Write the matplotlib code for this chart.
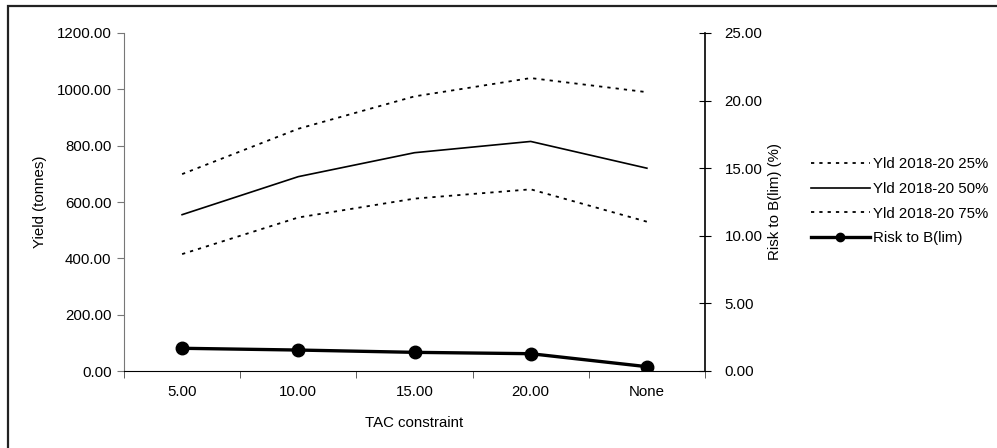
import matplotlib
matplotlib.use("Agg")
import matplotlib.pyplot as plt
from matplotlib.patches import Rectangle
import numpy as np

plt.rcParams["font.family"] = ["Liberation Sans", "DejaVu Sans"]
plt.rcParams["font.size"] = 10.8

# TAC constraint scenarios and projected yields / risk
categories = ["5.00", "10.00", "15.00", "20.00", "None"]
yld_25 = [415, 545, 612, 645, 530]
yld_50 = [555, 690, 775, 815, 720]
yld_75 = [699, 860, 975, 1040, 990]
risk_blim = [1.68, 1.55, 1.38, 1.28, 0.32]

x = np.arange(len(categories))

fig = plt.figure(figsize=(9.97, 4.48), dpi=100)
ax = fig.add_axes([124 / 997, 1 - 371 / 448, (705 - 124) / 997, (371 - 33) / 448])
ax2 = ax.twinx()

dot = (0, (1.8, 2.8))
l1, = ax.plot(x, yld_25, color="black", lw=1.3, ls=dot, label="Yld 2018-20 25%")
l2, = ax.plot(x, yld_50, color="black", lw=1.2, label="Yld 2018-20 50%")
l3, = ax.plot(x, yld_75, color="black", lw=1.3, ls=dot, label="Yld 2018-20 75%")
l4, = ax2.plot(x, risk_blim, color="black", lw=2.4, marker="o", ms=9,
               label="Risk to B(lim)")

ax.set_xlim(-0.5, len(categories) - 0.5)
ax.set_ylim(0, 1200)
ax.set_yticks(np.arange(0, 1201, 200))
ax.set_yticklabels([f"{v:.2f}" for v in np.arange(0, 1201, 200)])
ax2.set_ylim(0, 25)
ax2.set_yticks(np.arange(0, 26, 5))
ax2.set_yticklabels([f"{v:.2f}" for v in np.arange(0, 26, 5)])

ax.set_xticks(x)
ax.set_xticklabels(categories)
ax.set_xticks(np.arange(-0.5, len(categories)), minor=True)
ax.tick_params(axis="x", which="major", length=0, pad=10)
ax.tick_params(axis="x", which="minor", length=5, direction="out", color="#444444")
ax.tick_params(axis="y", length=5, color="#777777", pad=4)
ax2.tick_params(axis="y", length=8, direction="inout", pad=10)

for a in (ax, ax2):
    a.spines["top"].set_visible(False)
ax.spines["right"].set_visible(False)
ax.spines["left"].set_color("#777777")
ax2.spines["left"].set_visible(False)
ax2.spines["bottom"].set_visible(False)
ax2.spines["right"].set_linewidth(1.2)

ax.set_xlabel("TAC constraint", labelpad=12)
ax.set_ylabel("Yield (tonnes)", labelpad=7)
ax2.set_ylabel("Risk to B(lim) (%)", labelpad=4)

leg = fig.legend(handles=[l1, l2, l3, l4], loc="upper left",
                 bbox_to_anchor=(811 / 997, 1 - 157 / 448), frameon=False,
                 borderpad=0, borderaxespad=0, handlelength=3.9,
                 handletextpad=0.2, labelspacing=0.72)
leg.legend_handles[3].set_markersize(6)

fig.add_artist(Rectangle((7.5 / 997, -0.1), 1.2, 1.1 - 6.5 / 448,
                         transform=fig.transFigure, fill=False,
                         edgecolor="#222222", lw=1.6))

fig.savefig("out.png", dpi=100)
